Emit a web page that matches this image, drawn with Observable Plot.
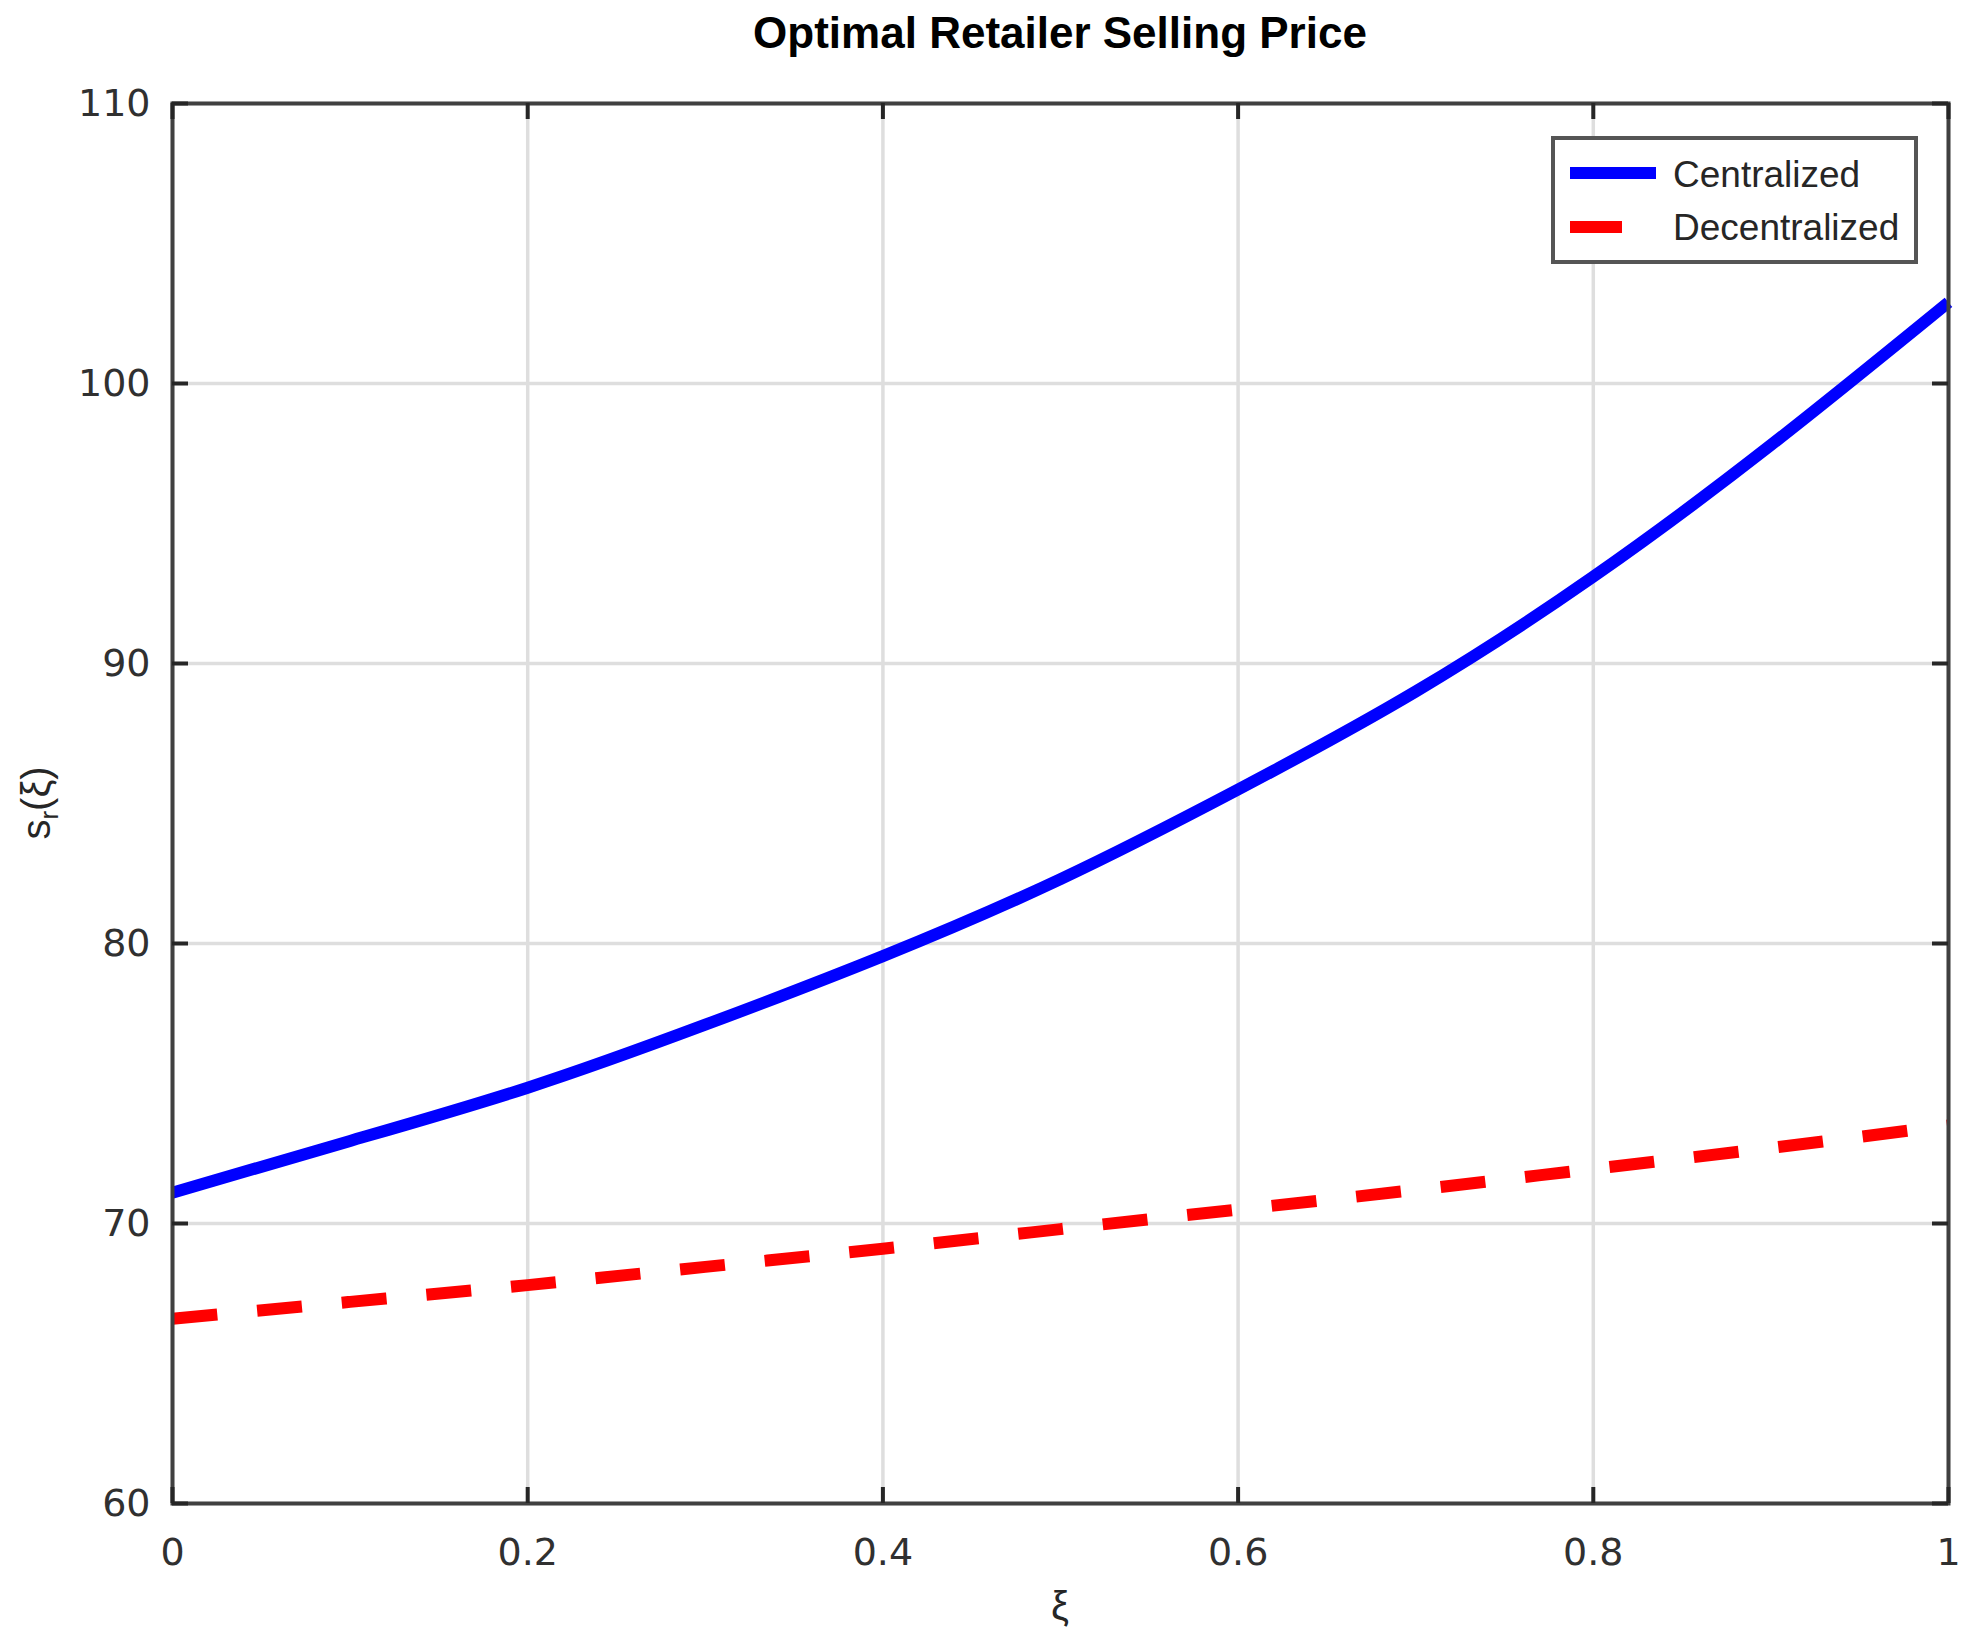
<!DOCTYPE html>
<html>
<head>
<meta charset="utf-8">
<script src="https://cdn.jsdelivr.net/npm/d3@7"></script>
<script src="https://cdn.jsdelivr.net/npm/@observablehq/plot@0.6"></script>
<style>
  html, body { margin: 0; padding: 0; background: white; }
  #chart svg { display: block; }
</style>
</head>
<body>
<div id="chart"></div>
<script>
// ---- data ----
const xi = [0, 0.1, 0.2, 0.3, 0.4, 0.5, 0.6, 0.7, 0.8, 0.9, 1];
const centralized = [71.1, 72.95, 74.85, 77.1, 79.55, 82.3, 85.5, 89.0, 93.1, 97.8, 102.9];
const decentralized = [66.6, 67.2, 67.8, 68.45, 69.1, 69.8, 70.5, 71.2, 71.95, 72.7, 73.5];
const seriesNames = ["Centralized", "Decentralized"];
const xTicks = [0, 0.2, 0.4, 0.6, 0.8, 1];
const yTicks = [60, 70, 80, 90, 100, 110];
const titleText = "Optimal Retailer Selling Price";
const xLabel = "ξ";

const rows = [];
xi.forEach((x, i) => {
  rows.push({xi: x, value: centralized[i], series: seriesNames[0]});
  rows.push({xi: x, value: decentralized[i], series: seriesNames[1]});
});

const W = 1969, H = 1649;
const mL = 172, mR = 21, mT = 103, mB = 146;
const frameW = W - mL - mR, frameH = H - mT - mB;
const tickLen = 16;
const axisColor = "#303030";
const tickFont = "'DejaVu Sans', Verdana, sans-serif";
const font = "'Liberation Sans', Arial, Helvetica, sans-serif";
const fmt = d => String(d);

const chart = Plot.plot({
  width: W,
  height: H,
  marginLeft: mL,
  marginRight: mR,
  marginTop: mT,
  marginBottom: mB,
  x: {domain: [0, 1]},
  y: {domain: [60, 110]},
  style: {fontFamily: tickFont, fontSize: "38px", background: "white", color: axisColor},
  marks: [
    Plot.gridX(xTicks, {stroke: "#dedede", strokeOpacity: 1, strokeWidth: 3.5}),
    Plot.gridY(yTicks, {stroke: "#dedede", strokeOpacity: 1, strokeWidth: 3.5}),
    Plot.line(rows.filter(d => d.series === seriesNames[1]), {
      x: "xi", y: "value", stroke: "#ff0000", strokeWidth: 12,
      strokeDasharray: "45,40", strokeLinecap: "butt", curve: "natural"
    }),
    Plot.line(rows.filter(d => d.series === seriesNames[0]), {
      x: "xi", y: "value", stroke: "#0000ff", strokeWidth: 12,
      strokeLinecap: "butt", curve: "natural"
    }),
    Plot.frame({stroke: "#404040", strokeWidth: 4}),
    // inward ticks on all four sides
    Plot.tickX(xTicks, {x: d => d, insetTop: frameH - tickLen, stroke: "#262626", strokeWidth: 4}),
    Plot.tickX(xTicks, {x: d => d, insetBottom: frameH - tickLen, stroke: "#262626", strokeWidth: 4}),
    Plot.tickY(yTicks, {y: d => d, insetRight: frameW - tickLen, stroke: "#262626", strokeWidth: 4}),
    Plot.tickY(yTicks, {y: d => d, insetLeft: frameW - tickLen, stroke: "#262626", strokeWidth: 4}),
    Plot.axisX(xTicks, {tickSize: 0, tickPadding: 35, tickFormat: fmt, fill: axisColor, fontSize: 38, label: null}),
    Plot.axisY(yTicks, {tickSize: 0, tickPadding: 22, tickFormat: fmt, fill: axisColor, fontSize: 38, label: null})
  ]
});

document.getElementById("chart").appendChild(chart);

const svg = d3.select(chart);

// Title
svg.append("text")
  .attr("x", (mL + W - mR) / 2)
  .attr("y", 48)
  .attr("text-anchor", "middle")
  .attr("font-family", font)
  .attr("font-weight", "bold")
  .attr("font-size", 44)
  .attr("fill", "#000")
  .text(titleText);

// X label
svg.append("text")
  .attr("x", (mL + W - mR) / 2)
  .attr("y", 1620)
  .attr("text-anchor", "middle")
  .attr("font-family", font)
  .attr("font-size", 40)
  .attr("fill", "#262626")
  .text(xLabel);

// Y label  s_r(ξ)
const yl = svg.append("text")
  .attr("transform", `translate(50,${mT + frameH / 2}) rotate(-90)`)
  .attr("text-anchor", "middle")
  .attr("font-family", font)
  .attr("font-size", 40)
  .attr("fill", "#262626");
yl.append("tspan").text("s");
yl.append("tspan").attr("dy", 8).attr("font-size", 26).text("r");
yl.append("tspan").attr("dy", -8).text("(ξ)");

// Legend
const lg = svg.append("g").attr("text-anchor", "start");
lg.append("rect")
  .attr("x", 1553).attr("y", 138).attr("width", 363).attr("height", 124)
  .attr("fill", "white").attr("stroke", "#555").attr("stroke-width", 4);
const legendItems = [
  {name: seriesNames[0], color: "#0000ff", len: 86, y: 173, base: 187},
  {name: seriesNames[1], color: "#ff0000", len: 52, y: 227, base: 240}
];
legendItems.forEach(it => {
  lg.append("line")
    .attr("x1", 1570).attr("x2", 1570 + it.len)
    .attr("y1", it.y).attr("y2", it.y)
    .attr("stroke", it.color).attr("stroke-width", 12);
  lg.append("text")
    .attr("x", 1673).attr("y", it.base)
    .attr("text-anchor", "start")
    .attr("font-family", font).attr("font-size", 37)
    .attr("fill", "#262626")
    .text(it.name);
});
</script>
</body>
</html>
